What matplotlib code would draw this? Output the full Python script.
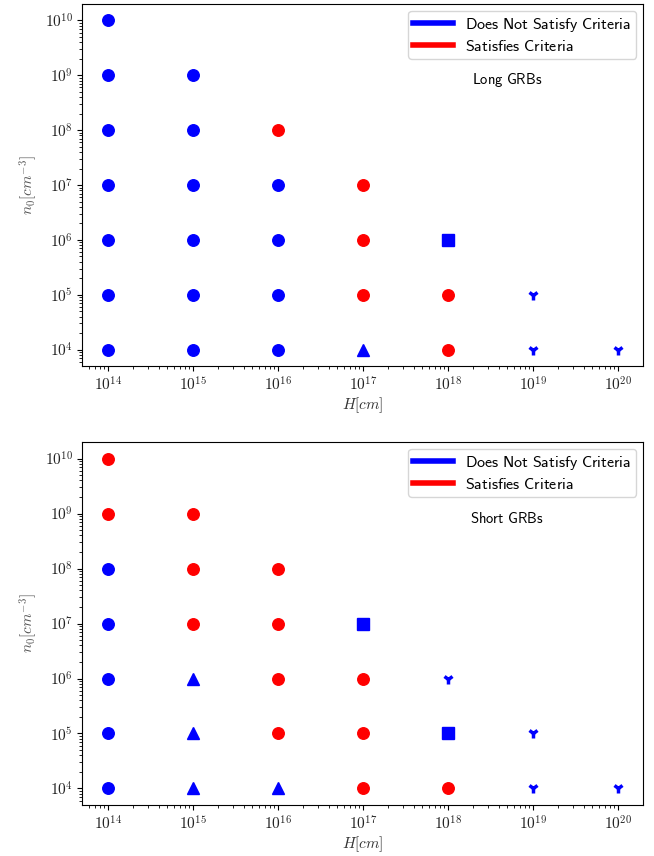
import matplotlib
matplotlib.use("Agg")
import matplotlib.pyplot as plt
from matplotlib.lines import Line2D
import numpy as np

plt.rcParams['mathtext.fontset'] = 'cm'

# exponents of H [cm] and n0 [cm^-3], marker and status for each run
# status: 1 = satisfies criteria (red), 0 = does not (blue)
long_logH = [14, 14, 14, 14, 14, 14, 14,
             15, 15, 15, 15, 15, 15,
             16, 16, 16, 16, 16,
             17, 17, 17, 17,
             18, 18, 18,
             19, 19,
             20]
long_logn = [10, 9, 8, 7, 6, 5, 4,
             9, 8, 7, 6, 5, 4,
             8, 7, 6, 5, 4,
             7, 6, 5, 4,
             6, 5, 4,
             5, 4,
             4]
long_mark = ['o', 'o', 'o', 'o', 'o', 'o', 'o',
             'o', 'o', 'o', 'o', 'o', 'o',
             'o', 'o', 'o', 'o', 'o',
             'o', 'o', 'o', '^',
             's', 'o', 'o',
             '1', '1',
             '1']
long_ok = [0, 0, 0, 0, 0, 0, 0,
           0, 0, 0, 0, 0, 0,
           1, 0, 0, 0, 0,
           1, 1, 1, 0,
           0, 1, 1,
           0, 0,
           0]

short_logH = [14, 14, 14, 14, 14, 14, 14,
              15, 15, 15, 15, 15, 15,
              16, 16, 16, 16, 16,
              17, 17, 17, 17,
              18, 18, 18,
              19, 19,
              20]
short_logn = [10, 9, 8, 7, 6, 5, 4,
              9, 8, 7, 6, 5, 4,
              8, 7, 6, 5, 4,
              7, 6, 5, 4,
              6, 5, 4,
              5, 4,
              4]
short_mark = ['o', 'o', 'o', 'o', 'o', 'o', 'o',
              'o', 'o', 'o', '^', '^', '^',
              'o', 'o', 'o', 'o', '^',
              's', 'o', 'o', 'o',
              '1', 's', 'o',
              '1', '1',
              '1']
short_ok = [1, 1, 0, 0, 0, 0, 0,
            1, 1, 1, 0, 0, 0,
            1, 1, 1, 1, 0,
            0, 1, 1, 1,
            0, 0, 1,
            0, 0,
            0]

titles = ['Long GRBs', 'Short GRBs']
colors = {0: 'blue', 1: 'red'}
xticks = range(14, 21)
yticks = range(4, 11)


def sans(s):
    return r'$\mathsf{' + s.replace(' ', r'\ ') + '}$'


fig = plt.figure(figsize=(6.54, 8.56), dpi=100)
ax1 = fig.add_axes([0.126, 0.5724, 0.8576, 0.4229])
ax2 = fig.add_axes([0.126, 0.0596, 0.8576, 0.4240])

panels = [(ax1, long_logH, long_logn, long_mark, long_ok),
          (ax2, short_logH, short_logn, short_mark, short_ok)]

for (ax, lh, ln, mk, ok), title in zip(panels, titles):
    for h, n, m, s in zip(lh, ln, mk, ok):
        if m == '1':
            ax.plot(10.0**h, 10.0**n, m, color=colors[s], ms=7.5, mew=2.5)
        else:
            ax.plot(10.0**h, 10.0**n, m, color=colors[s], ms=8.3)
    ax.set_xscale('log')
    ax.set_yscale('log')
    ax.set_xticks([10.0**k for k in xticks])
    ax.set_xticklabels([r'$10^{%d}$' % k for k in xticks])
    ax.set_yticks([10.0**k for k in yticks])
    ax.set_yticklabels([r'$10^{%d}$' % k for k in yticks])
    ax.tick_params(labelsize=11, labelcolor='#222222')
    ax.set_xlabel(r'$H[cm]$', fontsize=11, color='#333333', labelpad=1)
    ax.set_ylabel(r'$n_0[cm^{-3}]$', fontsize=11, color='#555555')
    handles = [Line2D([], [], color='blue', lw=4),
               Line2D([], [], color='red', lw=4)]
    ax.legend(handles, [sans('Does Not Satisfy Criteria'), sans('Satisfies Criteria')],
              loc='upper right', fontsize=11.5, handlelength=2.5,
              handletextpad=0.75, labelspacing=0.3, borderpad=0.3,
              borderaxespad=0.45)
    ax.text(0.757, 0.79, sans(title), transform=ax.transAxes, ha='center',
            va='center', fontsize=10.5)

fig.savefig('out.png', dpi=100)
